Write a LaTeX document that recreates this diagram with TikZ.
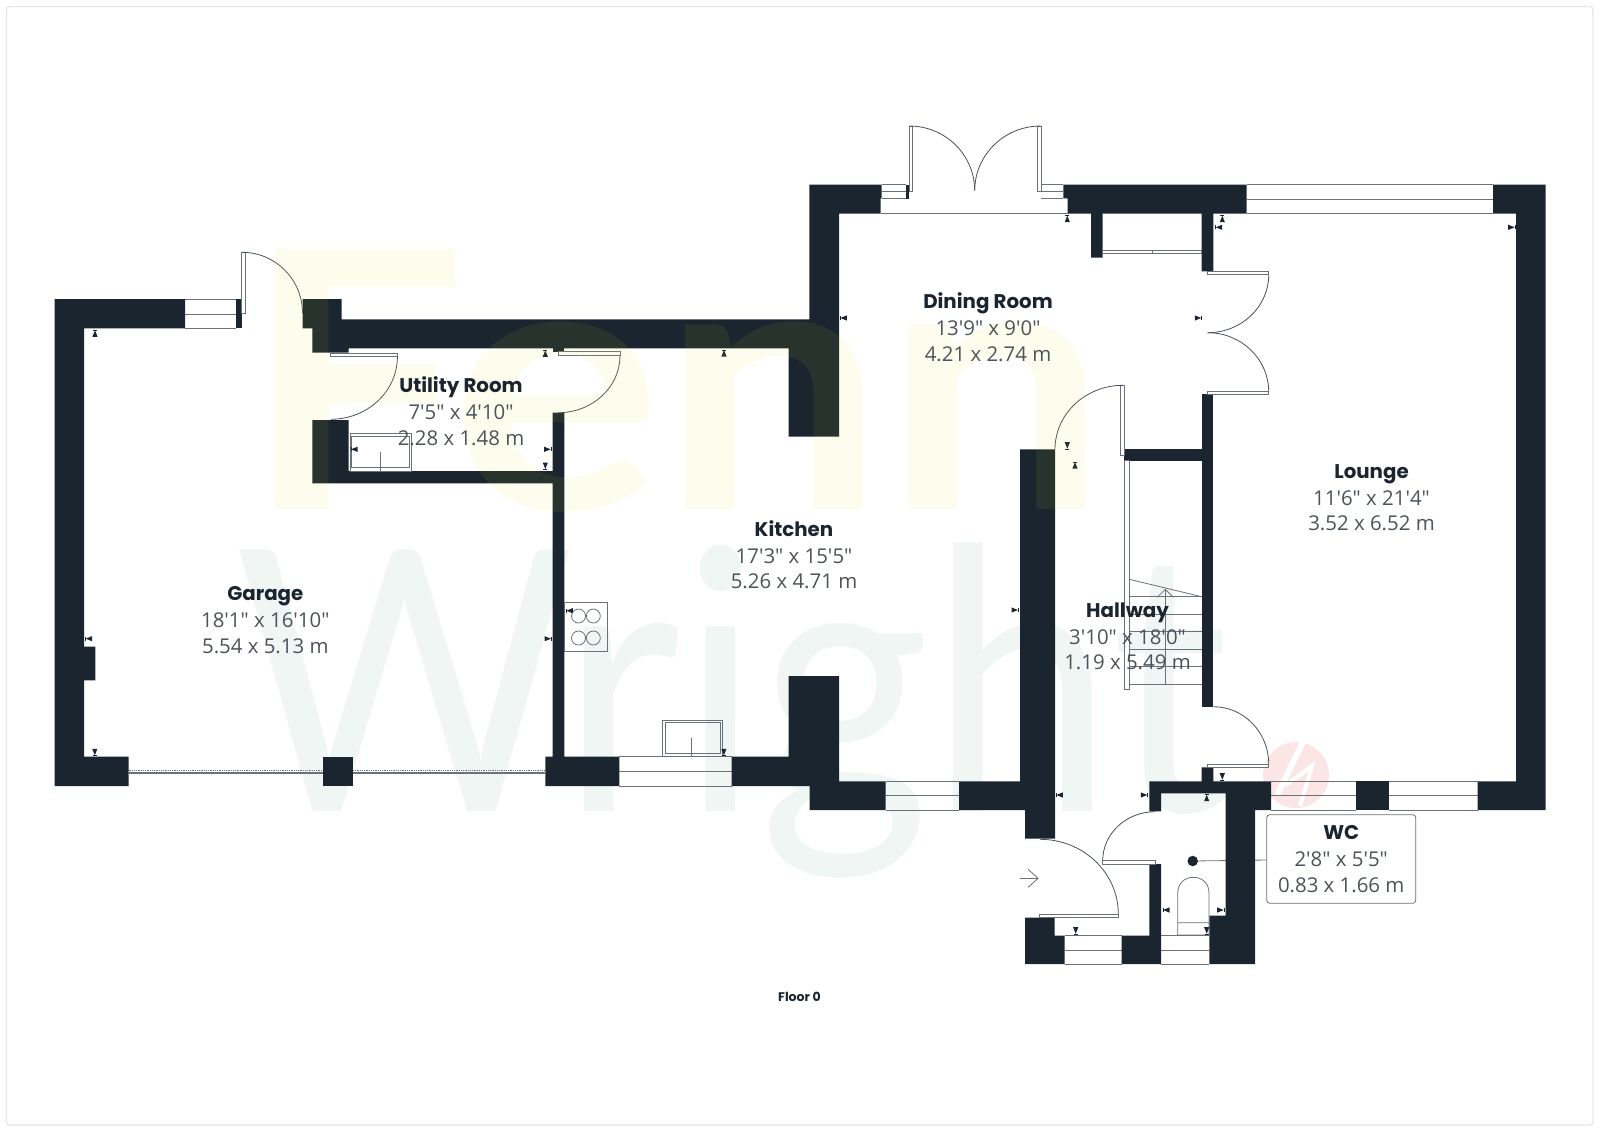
\documentclass[tikz,border=0pt]{standalone}
\usepackage{fontspec}
\usetikzlibrary{calc,arrows.meta}
\newfontfamily\dimfont{Open Sans}
\newfontfamily\titlefont{Poppins}
\newfontfamily\markfont{Lato}
\definecolor{wallc}{HTML}{1A2530}
\definecolor{linec}{HTML}{6A7177}
\definecolor{dimc}{HTML}{4C5359}
\definecolor{fennc}{RGB}{225,225,25}
\definecolor{wrightc}{HTML}{F0F6F3}
\definecolor{logoc}{HTML}{FBE6E5}
\definecolor{framec}{HTML}{E6E6E6}
\newcommand{\roomName}[1]{{\color{wallc}\titlefont\bfseries\fontsize{19.8}{25.5}\selectfont #1}}

\begin{document}
\begin{tikzpicture}
[x=1pt,y=-1pt,
  wallFill/.style={fill=wallc,draw=none},%
  windowLine/.style={draw=linec,line width=1pt},%
  thinLine/.style={draw=linec,line width=0.8pt},%
  doorLeaf/.style={draw=linec,line width=0.8pt,fill=white},%
  doorSwing/.style={draw=wallc!80!white,line width=0.8pt},%
  roomLabel/.style={text=dimc,align=center,inner sep=0pt,font=\dimfont\fontsize{20.4}{25.5}\selectfont}]
\useasboundingbox (0,0) rectangle (1600,1128);
%% frame and watermark
\draw[framec,line width=1.3pt,rounded corners=3pt] (6.5,6.5) rectangle (1593,1125);
\node[anchor=base,text=wrightc,xscale=0.9,transform shape,font=\markfont\fontsize{365}{365}\selectfont] (wrightMark) at (732,811) {Wright};
\fill[logoc] (1296,775) circle (33);
\draw[white,line width=6pt] (1277,795) -- (1303,742);
\draw[white,line width=4pt] (1286,785) -- (1312,766) -- (1300,806);
%% windows
\foreach \wl/\wr/\wt/\wm/\wb in {185/236/299/314/328.3, 881.7/905.7/184.7/191.7/198.3, 1041/1063.3/184.7/191.7/198.3,
  1247/1493/184.7/199.3/213.7, 619.3/731.5/756.7/771.3/786, 885.7/959/781.3/795.7/810,
  1064.7/1121.7/935.7/950/964, 1161/1209.3/935.7/950/964, 1271/1355.7/781.3/795.7/810, 1389.3/1477.6/781.3/795.7/810} {
  \draw[windowLine] (\wl,\wt) -- (\wr,\wt) (\wl,\wm) -- (\wr,\wm) (\wl,\wb) -- (\wr,\wb);
}
\draw[windowLine] (880.7,213.7) -- (1067.7,213.7);
%% garage door
\draw[linec,line width=1.6pt] (128.5,773) -- (323.4,773) (353,773) -- (545.3,773);
\draw[linec,line width=0.8pt,densely dotted] (128.5,770) -- (323.4,770) (353,770) -- (545.3,770);
%% wc label, drawn under the walls
\node[circle,fill=wallc,inner sep=0pt,minimum size=10.5pt] (wcDot) at (1192.7,861) {};
\node[draw=linec,fill=white,line width=0.8pt,rounded corners=3pt,minimum width=149pt,minimum height=88.6pt] (wcBox) at (1341.2,859) {};
\draw[thinLine] (wcDot) -- (wcBox);
%% walls
\fill[wallFill] (54.5,299) -- (185,299) -- (185,328.3) -- (84,328.3) -- (84,646.7) -- (95.3,646.7) -- (95.3,680.3) -- (84,680.3) -- (84,756.7) -- (128.5,756.7) -- (128.5,786) -- (54.5,786) -- cycle;
\fill[wallFill] (302.5,299) -- (341.6,299) -- (341.6,319.3) -- (809.3,319.3) -- (809.3,184.7) -- (881.7,184.7) -- (881.7,198.3) -- (880.7,198.3) -- (880.7,213.7) -- (839,213.7) -- (839,436.7) -- (788.5,436.7) -- (788.5,348.3) -- (348.7,348.3) -- (348.7,352.7) -- (312.4,352.7) -- (312.4,328.3) -- (302.5,328.3) -- cycle;
\fill[wallFill] (312.4,420) -- (348.7,420) -- (348.7,471) -- (552.7,471) -- (552.7,412.7) -- (564.3,412.7) -- (564.3,756.7) -- (619.3,756.7) -- (619.3,786) -- (545.3,786) -- (545.3,756.7) -- (552.7,756.7) -- (552.7,483.3) -- (312.4,483.3) -- cycle;
\fill[wallFill] (1063.3,184.7) -- (1246.7,184.7) -- (1246.7,213.7) -- (1213.3,213.7) -- (1213.3,271.3) -- (1201.7,271.3) -- (1201.7,213.7) -- (1102.7,213.7) -- (1102.7,257.7) -- (1091,257.7) -- (1091,213.7) -- (1067.7,213.7) -- (1067.7,198.3) -- (1063.3,198.3) -- cycle;
\fill[wallFill] (1493,184.7) -- (1545.7,184.7) -- (1545.7,810) -- (1477.6,810) -- (1477.6,781.3) -- (1516,781.3) -- (1516,213.7) -- (1493,213.7) -- cycle;
\fill[wallFill] (731.5,756.7) -- (788.5,756.7) -- (788.5,676) -- (839,676) -- (839,781.3) -- (885.7,781.3) -- (885.7,810) -- (809.6,810) -- (809.6,786) -- (731.5,786) -- cycle;
\fill[wallFill] (959,781.3) -- (1020,781.3) -- (1020,449.3) -- (1055,449.3) -- (1055,838.7) -- (1025,838.7) -- (1025,810) -- (959,810) -- cycle;
\fill[wallFill] (1201.7,767.3) -- (1213.3,767.3) -- (1213.3,781.3) -- (1271,781.3) -- (1271,810) -- (1255,810) -- (1255,964) -- (1209.3,964) -- (1209.3,915.7) -- (1225.7,915.7) -- (1225.7,793.3) -- (1161,793.3) -- (1161,811.3) -- (1149.3,811.3) -- (1149.3,781.3) -- (1201.7,781.3) -- cycle;
\fill[wallFill] (1025,917.7) -- (1054.7,917.7) -- (1054.7,935.7) -- (1064.7,935.7) -- (1064.7,964) -- (1025,964) -- cycle;
\fill[wallFill] (1149.3,864) -- (1161,864) -- (1161,964) -- (1121.7,964) -- (1121.7,935.7) -- (1149.3,935.7) -- cycle;
\foreach \xa/\ya/\xb/\yb in {236/299/241.6/328.3, 323.4/756.7/353/786, 552.7/348.3/564.3/351.7, 905.7/184.7/909/198.7,
  1355.7/781.3/1389.3/810, 1124.3/449.3/1201.7/460.7, 1201.7/394/1213.3/706.7} {
  \fill[wallFill] (\xa,\ya) rectangle (\xb,\yb);
}
%% door leaves and stair rail
\foreach \xa/\ya/\xb/\yb in {241.6/252.3/245.6/313.3, 909/126/912.7/191.7, 1037.3/126/1041/191.7, 1207.7/271.3/1268.7/274.7,
  1207.7/391/1268.7/394.7, 1120.7/385.3/1124.3/455.3, 330.6/353.3/397.4/356.7, 558.3/351.7/620/355.7,
  1207.3/764/1268.7/767.3, 1039.3/914.3/1118.3/917.7, 1102.7/860.7/1155.7/864, 1124.7/460.7/1129.3/689, 1102.7/250.7/1152/253.3, 1152/250.7/1201.7/253.3} {
  \draw[doorLeaf] (\xa,\ya) rectangle (\xb,\yb);
}
%% door swings
\foreach \ax/\ay/\bx/\by/\kx/\ky in {242/252.3/302.5/313/302.5/252.3, 909.3/126/974.7/190.7/974.7/126, 1040.7/126/974.7/190.7/974.7/126,
  1268.7/274.7/1207.7/332.7/1268.7/332.7, 1207.7/332.7/1268.7/391.7/1268.7/332.7, 1123/385.3/1055/449.3/1055/385.3,
  397.4/356.7/330.6/419.3/397.4/419.3, 620/355.7/558.3/412.7/620/412.7, 1213.3/706.7/1268.7/764/1268.7/706.7,
  1040/839.3/1118.3/914/1118.3/839.3, 1155/811.7/1102.7/860.7/1102.7/811.7} {
  \draw[doorSwing] (\ax,\ay) .. controls ($(\ax,\ay)!.5523!(\kx,\ky)$) and ($(\bx,\by)!.5523!(\kx,\ky)$) .. (\bx,\by);
}
%% stairs
\foreach \sy in {596.7,614.3,631.7,649.3,666.7,684.3} {
  \draw[thinLine] (1129.3,\sy) -- (1201.7,\sy);
}
\draw[thinLine] (1129.3,579.3) -- (1201.7,596.7);
\coordinate (stairFoot) at (1165.3,684.3);
\coordinate (stairHead) at (1165.3,588.7);
\draw[thinLine,-{Straight Barb[length=8pt,width=16pt]}] (stairFoot) -- (stairHead);
%% entrance arrow
\coordinate (entryTail) at (1020,878.3);
\coordinate (entryTip) at (1038.7,878.3);
\draw[thinLine,-{Straight Barb[length=10pt,width=18pt]}] (entryTail) -- (entryTip);
%% fittings
\draw[thinLine] (564.7,602.3) rectangle (607.5,651.7);
\foreach \cx/\cy in {578.5/616, 593.3/616, 578.5/638, 593.3/638} {
  \draw[thinLine] (\cx,\cy) circle (7);
}
\draw[thinLine] (662.7,720.3) rectangle (722.4,756.7) (665,722.7) rectangle (720,753.3) (691.7,738) -- (691.7,756.7);
\draw[thinLine] (350,433.3) rectangle (411.3,471) (351.5,436) rectangle (409,467.7) (380.4,451.7) -- (380.4,471);
\draw[thinLine] (1177.7,935) -- (1177.7,893) .. controls (1177.7,884) and (1184,877.3) .. (1193.3,877.3) .. controls (1203,877.3) and (1209,884) .. (1209,893) -- (1209,935) -- cycle (1177.7,922.7) -- (1209,922.7);
%% measuring ticks, rotation 0 points right
\foreach \mx/\my/\mrot in {95/333.3/90, 545.3/353.3/90, 354/449.3/180, 547.6/449.3/0, 545.3/466/-90, 88.7/638.7/180, 548/638.7/0,
  569.3/610.7/180, 94.8/752.3/-90, 723.9/752.3/-90, 724/353/90, 1067.3/218.7/90, 843.3/318/180, 1198.3/318/0, 1222.3/218.7/90,
  1218.7/227.3/180, 1511.7/227.3/0, 1067.3/445.7/-90, 1075/465/90, 1015/610/0, 1059.3/795/180, 1144.3/795/0, 1222.3/776.7/-90,
  1206.7/797.7/90, 1075.7/930.7/-90, 1206.7/930.7/-90, 1166/910/180, 1220.7/910/0} {
  \fill[wallc,shift={(\mx,\my)},rotate=\mrot] (-3.5,-2.6) -- (3,0) -- (-3.5,2.6) -- cycle;
  \draw[wallc,line width=0.3pt,shift={(\mx,\my)},rotate=\mrot] (3.3,-2) -- (3.3,2);
}
%% Fenn watermark over the walls
\node[anchor=base,text=fennc,opacity=0.08,xscale=1.1,transform shape,font=\markfont\bfseries\fontsize{360}{360}\selectfont] (fennMark) at (676,509) {Fenn};
%% room labels
\node[roomLabel] (garage) at (265.3,620) {\roomName{Garage}\\[1.5pt]18'1" x 16'10"\\5.54 x 5.13 m};
\node[roomLabel] (utility) at (461,411) {\roomName{Utility Room}\\[1.5pt]7'5" x 4'10"\\2.28 x 1.48 m};
\node[roomLabel] (dining) at (988,327) {\roomName{Dining Room}\\[1.5pt]13'9" x 9'0"\\4.21 x 2.74 m};
\node[roomLabel] (kitchen) at (794,554.5) {\roomName{Kitchen}\\[1.5pt]17'3" x 15'5"\\5.26 x 4.71 m};
\node[roomLabel] (lounge) at (1371.5,497.5) {\roomName{Lounge}\\[1.5pt]11'6" x 21'4"\\3.52 x 6.52 m};
\node[roomLabel] (hallway) at (1127.5,636.5) {\roomName{Hallway}\\[1.5pt]3'10" x 18'0"\\1.19 x 5.49 m};
\node[roomLabel] (wc) at (1341.2,859) {\roomName{WC}\\[1.5pt]2'8" x 5'5"\\0.83 x 1.66 m};
\node[text=wallc,inner sep=0pt,font=\titlefont\bfseries\fontsize{12.5}{14}\selectfont] (floorName) at (799.5,997) {Floor 0};
\end{tikzpicture}
\end{document}
